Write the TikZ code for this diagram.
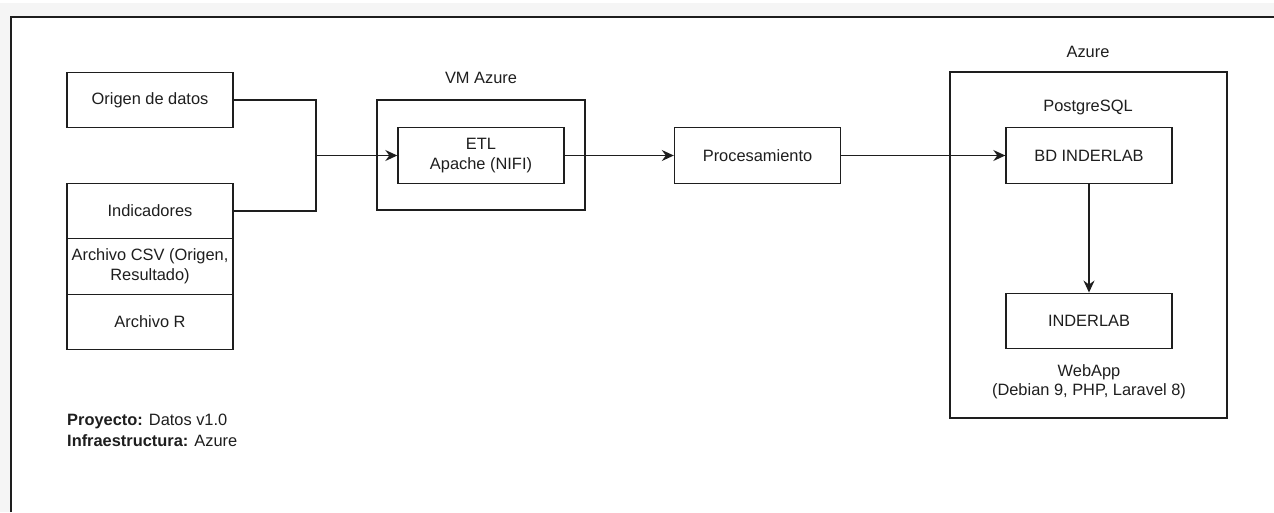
\documentclass[tikz,border=0pt]{standalone}
\usepackage{fontspec}
\setmainfont{Liberation Sans}
\usetikzlibrary{arrows.meta}
\definecolor{bggray}{HTML}{F5F5F5}
\definecolor{ink}{HTML}{1E1E1E}
\tikzset{
  boxnode/.style={draw=ink, line width=1.4pt, minimum width=166pt, minimum height=55.5pt, inner sep=0pt, align=center, text=ink, font=\fontsize{16.4}{20}\selectfont},
  groupbox/.style={draw=ink, line width=1.4pt},
  lbl/.style={inner sep=0pt, align=center, text=ink, font=\fontsize{16.4}{19}\selectfont},
  conn/.style={draw=ink, line width=1.4pt},
  arr/.style={conn, -{Stealth[length=12pt,width=11pt,inset=4pt]}},
}
\begin{document}
\begin{tikzpicture}[x=1pt,y=-1pt]
\useasboundingbox (0,0) rectangle (1274,512);
% background and page frame
\fill[bggray] (0,3) rectangle (1274,512);
\fill[white] (11,17) rectangle (1274,512);
\draw[ink, line width=1.6pt] (11,512) -- (11,17) -- (1274,17);
% group containers
\draw[groupbox] (377,100) rectangle (585,210);
\node[lbl] (vmlbl) at (481,78) {VM Azure};
\draw[groupbox] (950,72) rectangle (1227,418);
\node[lbl] (azlbl) at (1088,52) {Azure};
\node[lbl] (pglbl) at (1088,107) {PostgreSQL};
% nodes
\node[boxnode] (origen) at (150,100) {Origen de datos};
\node[boxnode] (ind) at (150,211) {Indicadores};
\node[boxnode] (csv) at (150,266.5) {Archivo CSV (Origen,\\Resultado)};
\node[boxnode] (arch) at (150,322) {Archivo R};
\node[boxnode] (etl) at (481,155.5) {ETL\\Apache (NIFI)};
\node[boxnode] (proc) at (757.5,155.5) {Procesamiento};
\node[boxnode] (bd) at (1089,155.5) {BD INDERLAB};
\node[boxnode] (inder) at (1089,321) {INDERLAB};
\node[lbl] (webapp) at (1089,382) {WebApp\\(Debian 9, PHP, Laravel 8)};
\node[lbl, anchor=north west, align=left, font=\fontsize{16.4}{21}\selectfont] (info) at (67,414)
  {\textbf{Proyecto:} Datos v1.0\\\textbf{Infraestructura:} Azure};
% connectors
\coordinate (join) at (316,155.5);
\draw[conn] (origen.east) -| (join);
\draw[conn] (ind.east) -| (join);
\draw[arr] (join) -- (etl.west);
\draw[arr] (etl.east) -- (proc.west);
\draw[arr] (proc.east) -- (bd.west);
\draw[arr] (bd.south) -- (inder.north);
\end{tikzpicture}
\end{document}
